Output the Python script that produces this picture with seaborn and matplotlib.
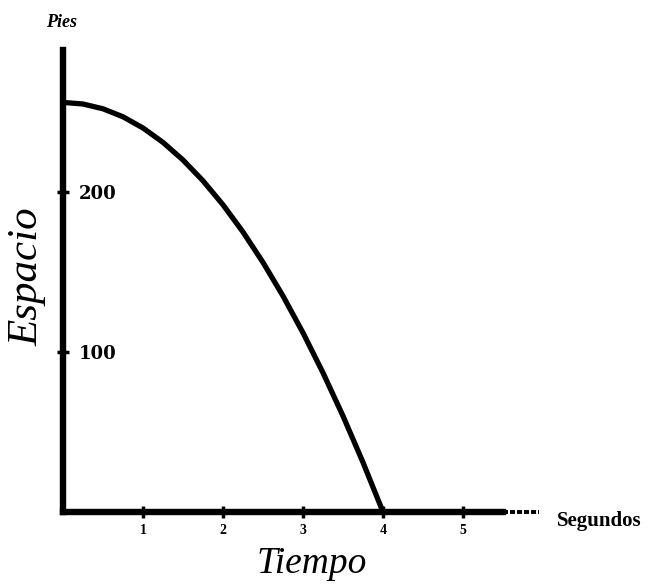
import matplotlib
matplotlib.use("Agg")
import matplotlib.pyplot as plt
import seaborn as sns
import pandas as pd

# Distance fallen vs. time (seconds, feet)
tiempo = [0, 0.25, 0.5, 0.75, 1, 1.25, 1.5, 1.75, 2, 2.25, 2.5, 2.75, 3, 3.25, 3.5, 3.75, 4]
espacio = [256, 255, 252, 247, 240, 231, 220, 207, 192, 175, 156, 135, 112, 87, 60, 31, 0]
x_ticks = [1, 2, 3, 4, 5]
x_tick_labels = ["1", "2", "3", "4", "5"]
y_ticks = [100, 200]
y_tick_labels = ["100", "200"]

df = pd.DataFrame({"Tiempo": tiempo, "Espacio": espacio})

sns.set_theme(style="white")
plt.rcParams["font.family"] = ["Liberation Serif", "DejaVu Serif"]
plt.rcParams["text.color"] = "black"
plt.rcParams["axes.labelcolor"] = "black"
plt.rcParams["xtick.color"] = "black"
plt.rcParams["ytick.color"] = "black"

fig = plt.figure(figsize=(6.55, 5.85), dpi=100)
ax = fig.add_axes([63 / 655, 1 - 512 / 585, (540 - 63) / 655, (512 - 50) / 585])

sns.lineplot(data=df, x="Tiempo", y="Espacio", ax=ax, color="black",
             linewidth=3.8, solid_capstyle="round")

ax.set_xlim(0, 5.9625)
ax.set_ylim(0, 288.75)

for side in ("top", "right"):
    ax.spines[side].set_visible(False)
for side in ("left", "bottom"):
    ax.spines[side].set_color("black")
    ax.spines[side].set_linewidth(4.6)
ax.spines["bottom"].set_bounds(0, 5.5)

# thin dashed tail at the end of the time axis
ax.plot([5.5, 5.95], [0, 0], color="black", linewidth=2.8,
        linestyle=(0, (1.3, 0.5)), clip_on=False)

ax.set_xticks(x_ticks)
ax.set_xticklabels(x_tick_labels, fontsize=10, fontweight="bold")
ax.set_yticks(y_ticks)
ax.set_yticklabels(y_tick_labels, fontsize=13, fontweight="bold", ha="left",
                   family=["DejaVu Serif"])
ax.tick_params(axis="x", bottom=True, direction="inout", length=9, width=2.5,
               color="black", labelcolor="black", pad=4)
ax.tick_params(axis="y", left=True, direction="inout", length=9, width=2.5,
               color="black", labelcolor="black", pad=-16)

ax.set_xlabel("Tiempo", fontsize=27, fontstyle="italic", color="black")
ax.xaxis.set_label_coords(0.522, -0.075)
ax.set_ylabel("Espacio", fontsize=31, fontstyle="italic", color="black")
ax.yaxis.set_label_coords(-0.035, 0.51)

ax.text(-0.035, 1.06, "Pies", transform=ax.transAxes, fontsize=13,
        fontweight="bold", fontstyle="italic", ha="left", va="center",
        color="black")
ax.text(1.035, -0.02, "Segundos", transform=ax.transAxes, fontsize=15,
        fontweight="bold", ha="left", va="center", color="black")

ax.set_facecolor("white")
fig.patch.set_facecolor("white")
fig.savefig("out.png", dpi=100)
